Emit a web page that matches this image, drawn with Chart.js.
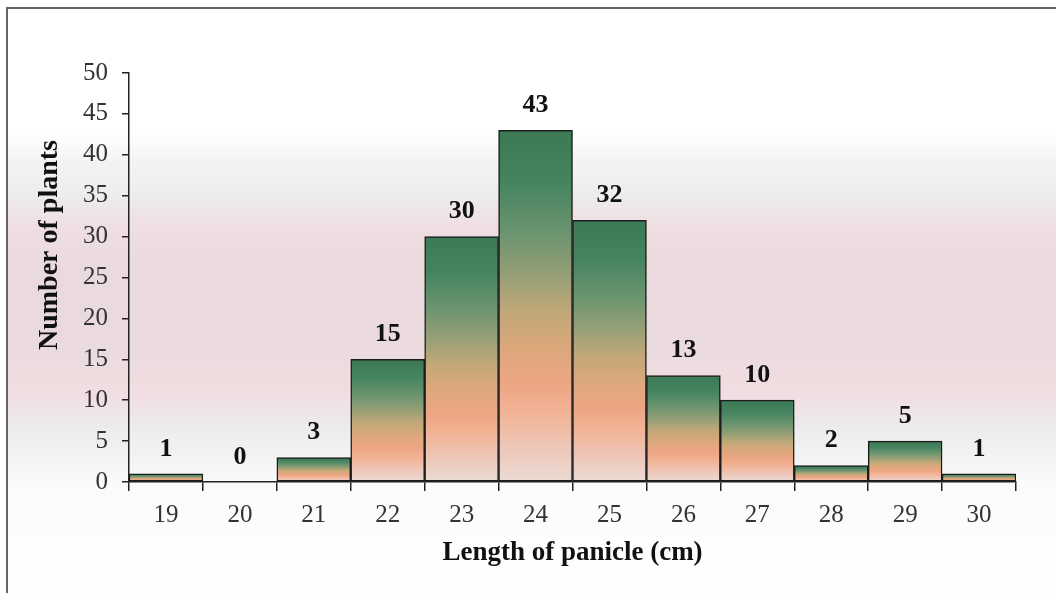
<!DOCTYPE html>
<html>
<head>
<meta charset="utf-8">
<script src="https://cdn.jsdelivr.net/npm/chart.js@4.4.1/dist/chart.umd.min.js"></script>
<style>
  html, body { margin: 0; padding: 0; background: #fff; }
  #wrap { width: 1056px; height: 593px; position: relative; }
</style>
</head>
<body>
<div id="wrap"><canvas id="chart"></canvas></div>
<script>
let categories = ["19", "20", "21", "22", "23", "24", "25", "26", "27", "28", "29", "30"];
let plants = [1, 0, 3, 15, 30, 43, 32, 13, 10, 2, 5, 1];
let y_ticks = [0, 5, 10, 15, 20, 25, 30, 35, 40, 45, 50];
let y_title = "Number of plants";
let x_title = "Length of panicle (cm)";

let serif = "'Liberation Serif', 'Times New Roman', serif";

// background band + frame like the original figure
let backdrop = {
  id: "backdrop",
  beforeDraw(chart) {
    let ctx = chart.ctx;
    let w = chart.width, h = chart.height;
    ctx.save();
    ctx.fillStyle = "#ffffff";
    ctx.fillRect(0, 0, w, h);
    let g = ctx.createLinearGradient(0, 8, 0, h);
    g.addColorStop(0, "#ffffff");
    g.addColorStop(125 / 585, "#ffffff");
    g.addColorStop(155 / 585, "#f3f3f3");
    g.addColorStop(185 / 585, "#ededed");
    g.addColorStop(215 / 585, "#efdfe3");
    g.addColorStop(260 / 585, "#eadadd");
    g.addColorStop(330 / 585, "#eadadd");
    g.addColorStop(390 / 585, "#f1dee2");
    g.addColorStop(420 / 585, "#ececec");
    g.addColorStop(450 / 585, "#f3f3f3");
    g.addColorStop(475 / 585, "#fbfbfb");
    g.addColorStop(1, "#ffffff");
    ctx.fillStyle = g;
    ctx.fillRect(8, 9, w - 8, h - 9);
    ctx.strokeStyle = "#666";
    ctx.lineWidth = 2;
    ctx.beginPath();
    ctx.moveTo(7, h);
    ctx.lineTo(7, 8);
    ctx.lineTo(w, 8);
    ctx.stroke();
    ctx.restore();
  },
};

// value labels above each bar, and the y title (sits above centre in the original)
let valueLabels = {
  id: "valueLabels",
  afterDatasetsDraw(chart) {
    let ctx = chart.ctx;
    let meta = chart.getDatasetMeta(0);
    ctx.save();
    ctx.font = "bold 26px " + serif;
    ctx.fillStyle = "#111";
    ctx.textAlign = "center";
    ctx.textBaseline = "bottom";
    meta.data.forEach((bar, i) => {
      ctx.fillText(String(plants[i]), bar.x, bar.y - 12);
    });

    ctx.translate(50, 245);
    ctx.rotate(-Math.PI / 2);
    ctx.font = "bold 28px " + serif;
    ctx.textBaseline = "middle";
    ctx.fillText(y_title, 0, 0);
    ctx.restore();
  },
};

function barFill(c) {
  let chart = c.chart;
  if (!chart.chartArea) {
    return "#8a9c72";
  }
  let y = chart.scales.y;
  let top = y.getPixelForValue(c.raw);
  let bottom = y.getPixelForValue(0);
  if (bottom - top < 1) {
    return "#8a9c72";
  }
  let g = chart.ctx.createLinearGradient(0, top, 0, bottom);
  g.addColorStop(0, "#3b7a55");
  g.addColorStop(0.15, "#468460");
  g.addColorStop(0.3, "#6d9570");
  g.addColorStop(0.42, "#99a077");
  g.addColorStop(0.52, "#c2a878");
  g.addColorStop(0.62, "#dca87c");
  g.addColorStop(0.72, "#eea584");
  g.addColorStop(0.8, "#f1b394");
  g.addColorStop(0.9, "#eec6b8");
  g.addColorStop(1, "#ebdcd4");
  return g;
}

let config = {
  type: "bar",
  data: {
    labels: categories,
    datasets: [
      {
        label: y_title,
        data: plants,
        backgroundColor: barFill,
        borderColor: "#1c1c1c",
        borderWidth: 1.5,
        borderSkipped: false,
        categoryPercentage: 1.0,
        barPercentage: 1.0,
      },
    ],
  },
  options: {
    responsive: true,
    maintainAspectRatio: false,
    animation: false,
    layout: {
      padding: { left: 8, top: 73, right: 40, bottom: 0 },
    },
    plugins: {
      legend: { display: false },
      tooltip: { enabled: false },
    },
    scales: {
      x: {
        offset: true,
        grid: {
          offset: true,
          drawOnChartArea: false,
          drawTicks: true,
          tickLength: 9,
          color: "#222",
          lineWidth: 1.5,
        },
        border: { display: true, color: "#222", width: 1.5 },
        ticks: {
          color: "#333",
          padding: 9,
          font: { family: serif, size: 25 },
        },
        title: {
          display: true,
          text: x_title,
          color: "#111",
          font: { family: serif, size: 27, weight: "bold" },
          padding: { top: 0, bottom: 24 },
        },
        afterFit(scale) {
          scale.height = 593 - 482;
        },
      },
      y: {
        min: 0,
        max: 50,
        afterBuildTicks(scale) {
          scale.ticks = y_ticks.map((v) => ({ value: v }));
        },
        grid: {
          drawOnChartArea: false,
          drawTicks: true,
          tickLength: 7,
          color: "#222",
          lineWidth: 1.5,
        },
        border: { display: true, color: "#222", width: 1.5 },
        ticks: {
          color: "#333",
          padding: 14,
          font: { family: serif, size: 25 },
        },
        afterFit(scale) {
          scale.width = 129 - 8;
        },
      },
    },
  },
  plugins: [backdrop, valueLabels],
};

let chart = new Chart(document.getElementById("chart"), config);
</script>
</body>
</html>
